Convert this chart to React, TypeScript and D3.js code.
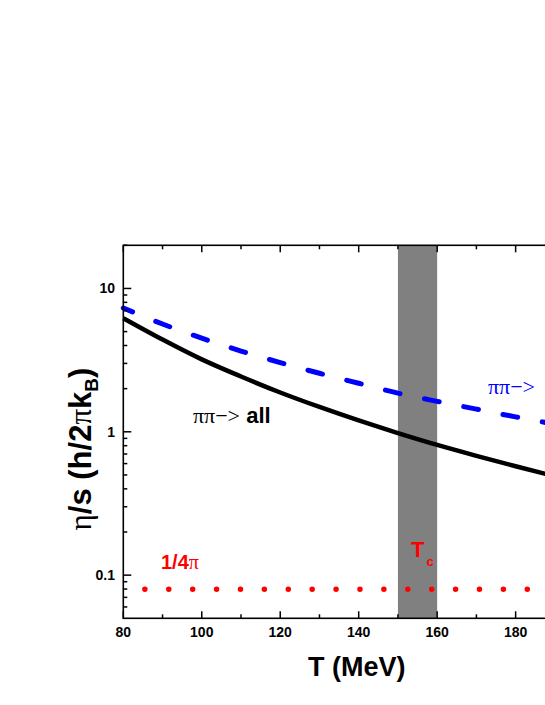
import React from "react";
import * as d3 from "d3";

const temps = [80, 90, 100, 110, 120, 130, 140, 150, 160, 170, 180, 190, 200];
const allValues = [6.2, 4.4, 3.2, 2.43, 1.88, 1.49, 1.2, 0.98, 0.81, 0.68, 0.575, 0.49, 0.42];
const pipiValues = [7.3, 5.65, 4.5, 3.66, 3.04, 2.56, 2.18, 1.86, 1.63, 1.44, 1.27, 1.13, 1.01];
const kssT = [85.5, 200];
const kssValue = 1 / (4 * Math.PI);
const tcBand = [150, 160];
const xTicks = [80, 100, 120, 140, 160, 180, 200];
const xTickLabels = ["80", "100", "120", "140", "160", "180"];
const xMinor = [90, 110, 130, 150, 170, 190];
const yTicks = [0.1, 1, 10];
const yTickLabels = ["0.1", "1", "10"];
const yMinor = [0.06, 0.07, 0.08, 0.09, 0.2, 0.3, 0.4, 0.5, 0.6, 0.7, 0.8, 0.9, 2, 3, 4, 5, 6, 7, 8, 9, 20];

const SANS = "'Liberation Sans', Arial, sans-serif";
const SERIF = "'Liberation Serif', 'Times New Roman', serif";

export default function App() {
  const x = d3.scaleLinear().domain([80, 200]).range([123.3, 594.1]);
  const y = d3.scaleLog().domain([0.05, 20]).range([618.3, 245.3]);
  const [x0, x1] = x.range();
  const [yb, yt] = y.range();

  const line = d3
    .line<number>()
    .x((_, i) => x(temps[i]))
    .y((d) => y(d))
    .curve(d3.curveMonotoneX);

  const kssLine = d3
    .line<number>()
    .x((d) => x(d))
    .y(() => y(kssValue));

  return (
    <svg
      width={545}
      height={705}
      style={{ position: "absolute", left: 0, top: 0, background: "#fff" }}
    >
      <rect x={0} y={0} width={545} height={705} fill="#fff" />
      {/* Tc band */}
      <rect
        x={x(tcBand[0])}
        y={yt}
        width={x(tcBand[1]) - x(tcBand[0])}
        height={yb - yt}
        fill="#808080"
      />
      {/* curves */}
      <path d={line(allValues) || ""} fill="none" stroke="#000" strokeWidth={4.5} />
      <path
        d={line(pipiValues) || ""}
        fill="none"
        stroke="#0000ff"
        strokeWidth={5}
        strokeLinecap="round"
        strokeDasharray="15 25"
        strokeDashoffset={5}
      />
      <path
        d={kssLine(kssT) || ""}
        fill="none"
        stroke="#ff0000"
        strokeWidth={5.5}
        strokeLinecap="round"
        strokeDasharray="0 23.9"
      />
      {/* frame */}
      <rect x={x0} y={yt} width={x1 - x0} height={yb - yt} fill="none" stroke="#000" strokeWidth={1.6} />
      {/* x ticks */}
      {xTicks.map((t) => (
        <g key={"xt" + t}>
          <line x1={x(t)} x2={x(t)} y1={yb} y2={yb - 7} stroke="#000" strokeWidth={1.5} />
          <line x1={x(t)} x2={x(t)} y1={yt} y2={yt + 7} stroke="#000" strokeWidth={1.5} />
        </g>
      ))}
      {xTickLabels.map((lab, i) => (
        <text
          key={"xl" + lab}
          x={x(xTicks[i])}
          y={637}
          textAnchor="middle"
          fontFamily={SANS}
          fontWeight="bold"
          fontSize={14}
        >
          {lab}
        </text>
      ))}
      {xMinor.map((t) => (
        <g key={"xm" + t}>
          <line x1={x(t)} x2={x(t)} y1={yb} y2={yb - 4} stroke="#000" strokeWidth={1.5} />
          <line x1={x(t)} x2={x(t)} y1={yt} y2={yt + 4} stroke="#000" strokeWidth={1.5} />
        </g>
      ))}
      {/* y ticks */}
      {yTicks.map((t, i) => (
        <g key={"yt" + t}>
          <line x1={x0} x2={x0 + 8} y1={y(t)} y2={y(t)} stroke="#000" strokeWidth={1.5} />
          <text
            x={115}
            y={y(t) + 5}
            textAnchor="end"
            fontFamily={SANS}
            fontWeight="bold"
            fontSize={14}
          >
            {yTickLabels[i]}
          </text>
        </g>
      ))}
      {yMinor.map((t) => (
        <line key={"ym" + t} x1={x0} x2={x0 + 4} y1={y(t)} y2={y(t)} stroke="#000" strokeWidth={1.5} />
      ))}
      {/* axis titles */}
      <text
        x={356.7}
        y={676}
        textAnchor="middle"
        fontFamily={SANS}
        fontWeight="bold"
        fontSize={27}
      >
        T (MeV)
      </text>
      <text
        transform="translate(91,449) rotate(-90)"
        textAnchor="middle"
        fontFamily={SANS}
        fontWeight="bold"
        fontSize={31}
      >
        <tspan fontFamily={SERIF} fontWeight="normal">η</tspan>
        <tspan>/s (h/2</tspan>
        <tspan fontFamily={SERIF} fontWeight="normal">π</tspan>
        <tspan>k</tspan>
        <tspan fontSize={19} dy={7}>B</tspan>
        <tspan dy={-7}>)</tspan>
      </text>
      {/* annotations */}
      <text x={193} y={423} fontSize={22} fill="#000">
        <tspan fontFamily={SERIF}>ππ−&gt;</tspan>
        <tspan fontFamily={SANS} fontWeight="bold"> all</tspan>
      </text>
      <text x={488} y={394} fontSize={22} fill="#0000ff" fontFamily={SERIF}>
        ππ−&gt;
      </text>
      <text x={161} y={569} fontSize={20} fill="#ff0000" fontFamily={SANS} fontWeight="bold">
        1/4<tspan fontFamily={SERIF} fontWeight="normal">π</tspan>
      </text>
      <text x={411} y={556.7} fontSize={22} fill="#ff0000" fontFamily={SANS} fontWeight="bold">
        T<tspan fontSize={13} dy={9} dx={2}>c</tspan>
      </text>
    </svg>
  );
}
